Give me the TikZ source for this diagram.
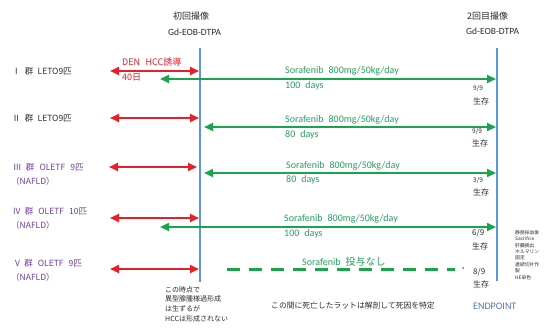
\documentclass[tikz,border=0pt]{standalone}
\usepackage{fontspec}
\setmainfont{Carlito}
\newfontfamily\jp{Noto Sans CJK JP}
\usetikzlibrary{arrows.meta}
\definecolor{myred}{RGB}{232,30,40}
\definecolor{mygreen}{RGB}{25,165,75}
\definecolor{txtgreen}{RGB}{40,160,95}
\definecolor{myblue}{RGB}{95,150,215}
\definecolor{mypurple}{RGB}{112,60,160}
\definecolor{endblue}{RGB}{80,120,190}
\definecolor{dark}{RGB}{45,45,45}
\begin{document}
\begin{tikzpicture}[x=1pt,y=-1pt,
  vline/.style={myblue, line width=2.4pt},
  redarr/.style={myred, line width=2.2pt, {Triangle[length=9pt,width=8pt]}-{Triangle[length=9pt,width=8pt]}},
  grnarr/.style={mygreen, line width=2.2pt, {Triangle[length=9pt,width=8pt]}-{Triangle[length=9pt,width=8pt]}},
  grndash/.style={mygreen, line width=3pt, dash pattern=on 13pt off 9pt},
  grplbl/.style={anchor=west, inner sep=0pt, text=dark, font=\jp\fontsize{8.5}{10}\selectfont},
  purlbl/.style={grplbl, text=mypurple},
  sora/.style={anchor=west, inner sep=0pt, text=txtgreen, font=\fontsize{10}{12}\selectfont},
  redtxt/.style={anchor=west, inner sep=0pt, text=myred, font=\jp\fontsize{9}{11}\selectfont},
  surv/.style={anchor=west, inner sep=0pt, text=dark, font=\jp\fontsize{6.5}{8}\selectfont},
  survb/.style={anchor=west, inner sep=0pt, text=dark, font=\jp\fontsize{8}{10}\selectfont},
  head/.style={anchor=west, inner sep=0pt, text=dark, font=\jp\fontsize{9}{11}\selectfont},
  headlat/.style={anchor=west, inner sep=0pt, text=dark, font=\fontsize{9.5}{11}\selectfont},
  note/.style={anchor=west, inner sep=0pt, text=dark, font=\jp\fontsize{7}{9.8}\selectfont, align=left},
  tiny/.style={anchor=north west, inner sep=0pt, text=dark, font=\jp\fontsize{4.8}{6.4}\selectfont, align=left}
]
\useasboundingbox (0,0) rectangle (545,331);
\fill[white] (0,0) rectangle (545,331);

% vertical lines
\coordinate (L1) at (200,48); \coordinate (L2) at (200,282);
\coordinate (R1) at (497,48); \coordinate (R2) at (497,281);
\draw[vline] (L1) -- (L2);
\draw[vline] (R1) -- (R2);

% headers
\node[head] (h1) at (173,16) {初回撮像};
\node[headlat] (h1b) at (168,32) {Gd-EOB-DTPA};
\node[head] (h2) at (467,16) {2回目撮像};
\node[headlat] (h2b) at (466,31) {Gd-EOB-DTPA};

% group labels
\node[grplbl] (g1) at (12,71) {Ⅰ\hspace{0.5em}群\hspace{0.5em}LETO9匹};
\node[grplbl] (g2) at (12,118) {Ⅱ\hspace{0.5em}群\hspace{0.5em}LETO9匹};
\node[purlbl] (g3) at (13,167) {Ⅲ\hspace{0.5em}群\hspace{0.6em}OLETF\hspace{0.6em}9匹};
\node[purlbl] (g3b) at (11,181) {（NAFLD）};
\node[purlbl] (g4) at (13,211) {IV\hspace{0.5em}群\hspace{0.6em}OLETF\hspace{0.6em}10匹};
\node[purlbl] (g4b) at (11,225) {（NAFLD）};
\node[purlbl] (g5) at (15,263) {V\hspace{0.5em}群\hspace{0.6em}OLETF\hspace{0.6em}9匹};
\node[purlbl] (g5b) at (11,277) {（NAFLD）};

% red arrows
\coordinate (ra1) at (110,71);  \coordinate (rb1) at (199,71);
\coordinate (ra2) at (110,118); \coordinate (rb2) at (199,118);
\coordinate (ra3) at (109,167); \coordinate (rb3) at (197,167);
\coordinate (ra4) at (110,218); \coordinate (rb4) at (199,218);
\coordinate (ra5) at (110,269); \coordinate (rb5) at (199,269);
\foreach \i in {1,...,5} \draw[redarr] (ra\i) -- (rb\i);

\node[redtxt] (den) at (122,62) {DEN\hspace{0.6em}HCC誘導};
\node[redtxt] (d40) at (122,77) {40日};

% green arrows
\coordinate (ga1) at (160,79);  \coordinate (gb1) at (496,79);
\coordinate (ga2) at (204,127); \coordinate (gb2) at (496,127);
\coordinate (ga3) at (204,173); \coordinate (gb3) at (496,173);
\coordinate (ga4) at (160,227); \coordinate (gb4) at (496,227);
\foreach \i in {1,...,4} \draw[grnarr] (ga\i) -- (gb\i);
\coordinate (gd1) at (227,269); \coordinate (gd2) at (455,269);
\draw[grndash] (gd1) -- (gd2);
\fill[mygreen] (463,268) circle (1pt);

% sorafenib texts
\node[sora] (s1) at (285,71) {Sorafenib\hspace{0.5em}800mg/50kg/day};
\node[sora] (s1b) at (285,86) {100\hspace{0.5em}days};
\node[sora] (s2) at (285,120) {Sorafenib\hspace{0.5em}800mg/50kg/day};
\node[sora] (s2b) at (285,135) {80\hspace{0.5em}days};
\node[sora] (s3) at (286,166) {Sorafenib\hspace{0.5em}800mg/50kg/day};
\node[sora] (s3b) at (286,180) {80\hspace{0.5em}days};
\node[sora] (s4) at (284,219) {Sorafenib\hspace{0.5em}800mg/50kg/day};
\node[sora] (s4b) at (284,234) {100\hspace{0.5em}days};
\node[sora] (s5) at (302,262) {Sorafenib\hspace{0.5em}{\jp 投与なし}};

% survival
\node[surv] (v1) at (473,89) {9/9};   \node[survb] (w1) at (473,101) {生存};
\node[surv] (v2) at (472,132) {9/9};  \node[survb] (w2) at (472,143) {生存};
\node[surv] (v3) at (473,181) {3/9};  \node[survb] (w3) at (473,192) {生存};
\node[survb] (v4) at (472,233) {6/9}; \node[survb] (w4) at (472,246) {生存};
\node[survb] (v5) at (473,272) {8/9}; \node[survb] (w5) at (473,284) {生存};

% bottom notes
\node[note, anchor=north west] (n1) at (165,286) {この時点で\\異型腺腫様過形成\\は生ずるが\\HCCは形成されない};
\node[note, font=\jp\fontsize{7.8}{9}\selectfont] (n2) at (271,306) {この間に死亡したラットは解剖して死因を特定};
\node[anchor=west, inner sep=0pt, text=endblue, font=\fontsize{10}{12}\selectfont] (ep) at (473,306) {ENDPOINT};
\node[tiny] (proc) at (515,230) {静脈採血後\\Sacrifice\\肝臓摘出\\ホルマリン\\固定\\連続切片作\\製\\HE染色};
\end{tikzpicture}
\end{document}
